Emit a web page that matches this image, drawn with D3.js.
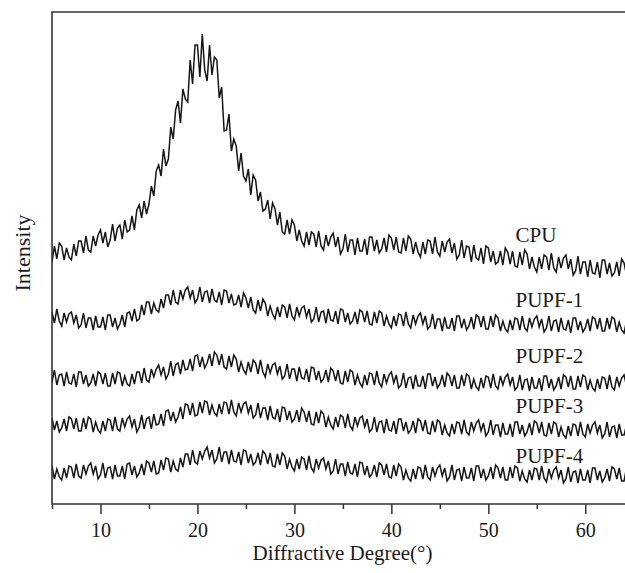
<!DOCTYPE html>
<html>
<head>
<meta charset="utf-8">
<script src="https://cdn.jsdelivr.net/npm/d3@7/dist/d3.min.js"></script>
<style>
html,body{margin:0;padding:0;background:#fff;}
svg{display:block;}
text{font-family:"Liberation Serif","Times New Roman",serif;fill:#1a1a1a;}
</style>
</head>
<body>
<svg id="chart" width="625" height="573"></svg>
<script>
// ---- data (intensity in arbitrary units, curves stacked) ----
const angleStart = 5;      // first sampled 2θ (deg)
const angleStep = 0.25;    // sampling step (deg)
const seriesNames = ["CPU", "PUPF-1", "PUPF-2", "PUPF-3", "PUPF-4"];
const xTickValues = [10, 20, 30, 40, 50, 60];
const xMinorTickValues = [5, 15, 25, 35, 45, 55];
const xTitle = "Diffractive Degree(\u00B0)";
const yTitle = "Intensity";

const cpu = [
242,258,245,261, 258,244,256,247, 244,260,248,263, 263,251,268,254, 252,268,258,269,
274,261,272,257, 264,280,263,276, 279,265,284,272, 274,288,274,294, 299,286,303,290,
300,318,308,333, 339,328,355,338, 345,377,365,394, 403,381,415,405, 402,444,420,459,
459,427,470,434, 423,459,429,447, 444,406,417,373, 374,390,353,365, 358,333,351,328,
323,335,309,329, 324,303,312,293, 295,304,285,301, 295,279,292,272, 270,284,270,284,
279,263,274,263, 258,272,259,272, 270,257,273,258, 254,269,258,267, 271,257,267,250,
255,270,252,264, 264,249,266,253, 253,265,249,267, 267,253,264,251, 255,266,252,269,
266,254,267,252, 251,266,253,268, 265,250,262,252, 247,262,250,264, 263,250,267,252,
248,263,252,262, 265,251,261,245, 249,264,246,258, 257,242,259,246, 244,256,240,258,
256,242,253,240, 242,253,239,256, 252,240,253,238, 237,252,239,254, 250,235,247,237,
232,247,235,249, 247,234,251,236, 232,247,236,246, 249,235,245,229, 233,248,230,242,
242,227,244,231, 230,242,226,244, 244,230,241,228, 231,242,228,245, 241,229
];
const pupf1 = [
192,181,195,183, 178,191,182,190, 192,181,189,176, 179,191,176,186, 186,174,188,177,
177,187,174,189, 189,177,186,175, 180,189,177,191, 192,183,195,183, 185,199,189,202,
202,190,201,194, 192,205,196,209, 209,199,214,202, 200,214,205,214, 217,206,214,201,
205,217,202,212, 213,201,215,204, 202,212,199,214, 213,201,210,199, 200,209,197,211,
206,196,207,194, 191,204,193,205, 201,188,198,190, 185,197,187,199, 197,186,200,188,
184,197,188,196, 198,187,195,182, 185,197,182,192, 193,181,195,184, 183,193,180,195,
194,182,191,180, 183,192,180,194, 192,182,193,180, 179,192,181,193, 191,178,188,180,
176,188,178,190, 189,178,192,180, 176,189,180,188, 191,180,188,175, 178,190,175,185,
185,173,187,176, 176,186,173,188, 188,176,185,174, 178,187,175,189, 187,177,188,175,
175,188,177,189, 186,173,183,175, 172,184,174,186, 185,174,188,176, 173,186,177,185,
188,177,185,172, 176,188,173,183, 184,172,186,175, 174,184,171,186, 186,174,183,172,
176,185,173,187, 185,175,186,173, 173,186,175,187, 185,172,182,174, 171,183
];
const pupf2 = [
122,134,119,129, 130,118,132,121, 120,130,117,132, 132,120,129,118, 121,130,118,132,
130,120,131,118, 118,131,120,132, 131,118,128,120, 118,130,120,132, 132,121,136,124,
122,135,127,135, 139,129,137,125, 130,143,128,139, 141,130,144,134, 135,145,133,148,
149,137,147,136, 141,150,138,152, 149,139,150,137, 135,148,137,149, 145,132,142,134,
130,142,132,144, 141,130,144,132, 127,140,131,139, 141,130,138,125, 128,140,125,135,
135,123,137,126, 125,135,122,137, 136,124,133,122, 125,134,122,136, 133,123,134,121,
120,133,122,134, 132,119,129,121, 117,129,119,131, 130,119,133,121, 117,130,121,129,
132,121,129,116, 119,131,116,126, 127,115,129,118, 118,128,115,130, 130,118,127,116,
120,129,117,131, 128,118,129,116, 116,129,118,130, 128,115,125,117, 114,126,116,128,
127,116,130,118, 115,128,119,127, 130,119,127,114, 117,129,114,124, 125,113,127,116,
116,126,113,128, 128,116,125,114, 118,127,115,129, 127,117,128,115, 115,128,117,129,
127,114,124,116, 113,125,115,127, 126,115,129,117, 114,127,118,126, 129,118
];
const pupf3 = [
86,74,83,72, 76,85,73,87, 85,75,86,73, 73,86,75,87, 85,72,82,74,
71,83,73,85, 84,73,87,75, 73,86,77,85, 88,77,85,72, 77,89,75,85,
87,75,90,79, 80,90,78,93, 94,83,92,82, 87,97,85,100, 99,89,101,88,
89,102,91,103, 102,89,99,91, 88,100,90,102, 101,90,104,92, 88,101,92,100,
102,91,99,86, 89,101,86,96, 96,84,98,87, 85,95,82,97, 96,84,93,82,
85,94,82,96, 92,82,93,80, 79,92,81,93, 90,77,87,79, 75,87,77,89,
87,76,90,78, 74,87,78,86, 88,77,85,72, 75,87,72,82, 83,71,85,74,
73,83,70,85, 85,73,82,71, 74,83,71,85, 83,73,84,71, 70,83,72,84,
82,69,79,71, 68,80,70,82, 81,70,84,72, 69,82,73,81, 84,73,81,68,
72,84,69,79, 79,67,81,70, 70,80,67,82, 82,70,79,68, 72,81,69,83,
81,71,82,69, 68,81,70,82, 80,67,77,69, 66,78,68,80, 79,68,82,70,
67,80,71,79, 82,71,79,66, 70,82,67,77, 78,66,80,69, 69,79
];
const pupf4 = [
38,25,35,27, 24,36,26,38, 37,26,40,28, 26,39,30,38, 41,30,38,25,
29,41,26,36, 37,25,39,28, 28,38,25,40, 41,29,38,27, 31,40,29,43,
41,32,43,30, 31,44,34,46, 45,32,43,35, 33,46,37,50, 50,39,54,42,
40,53,45,53, 57,46,54,41, 45,57,42,52, 52,40,54,43, 42,52,39,54,
53,41,50,39, 42,51,39,53, 50,40,51,38, 37,50,39,51, 48,35,45,37,
33,45,35,47, 45,34,48,36, 32,45,36,44, 46,35,43,30, 33,45,30,40,
40,28,42,31, 30,40,27,42, 41,29,38,27, 30,39,27,41, 39,29,40,27,
26,39,28,40, 37,24,34,26, 23,35,25,37, 36,25,39,27, 24,37,28,36,
39,28,36,23, 27,39,24,34, 35,23,37,26, 26,36,23,38, 38,26,35,24,
28,37,25,39, 36,26,37,24, 24,37,26,38, 36,23,33,25, 22,34,24,36,
35,24,38,26, 22,35,26,34, 37,26,34,21, 25,37,22,32, 33,21,35,24,
24,34,21,36, 36,24,33,22, 26,35,23,37, 35,25,36,23, 23,36
];
const seriesValues = [cpu, pupf1, pupf2, pupf3, pupf4];
// label anchor heights (same intensity units) for the curve names
const labelLevels = [262, 197, 141, 91, 41];

(function () {
  const svg = d3.select("#chart");
  const mLeft = 52, mRight = 626, mTop = 12, mBottom = 504;

  const x = d3.scaleLinear().domain([5, 64.2]).range([mLeft, mRight]);
  const y = d3.scaleLinear().domain([0, 492]).range([mBottom, mTop]);

  svg.append("defs").append("clipPath").attr("id", "plotClip")
    .append("rect").attr("x", mLeft).attr("y", mTop)
    .attr("width", mRight - mLeft).attr("height", mBottom - mTop);

  const line = d3.line()
    .x((d, i) => x(angleStart + i * angleStep))
    .y(d => y(d));

  const plot = svg.append("g").attr("clip-path", "url(#plotClip)");
  seriesValues.forEach(vals => {
    plot.append("path")
      .datum(vals)
      .attr("d", line)
      .attr("fill", "none")
      .attr("stroke", "#161616")
      .attr("stroke-width", 1.5);
  });

  seriesNames.forEach((name, i) => {
    svg.append("text")
      .attr("x", x(52.8))
      .attr("y", y(labelLevels[i]))
      .attr("font-size", 21)
      .text(name);
  });

  svg.append("path")
    .attr("d", `M${mRight + 10},${mTop}H${mLeft}V${mBottom}H${mRight + 10}`)
    .attr("fill", "none").attr("stroke", "#333").attr("stroke-width", 1.6);

  const xAxis = d3.axisBottom(x).tickValues(xTickValues).tickSize(10).tickPadding(9).tickFormat(d3.format("d"));
  const gx = svg.append("g").attr("transform", `translate(0,${mBottom})`).call(xAxis);
  gx.select(".domain").remove();
  gx.selectAll(".tick line").attr("stroke", "#333").attr("stroke-width", 1.5);
  gx.selectAll(".tick text").attr("font-size", 20)
    .attr("font-family", "Liberation Serif, Times New Roman, serif").attr("fill", "#1a1a1a");

  const xMinor = d3.axisBottom(x).tickValues(xMinorTickValues).tickSize(5).tickFormat("");
  const gm = svg.append("g").attr("transform", `translate(0,${mBottom})`).call(xMinor);
  gm.select(".domain").remove();
  gm.selectAll(".tick line").attr("stroke", "#333").attr("stroke-width", 1.5);

  svg.append("text")
    .attr("x", (mLeft + 625) / 2 + 4)
    .attr("y", 560)
    .attr("text-anchor", "middle")
    .attr("font-size", 21)
    .text(xTitle);

  svg.append("text")
    .attr("transform", "translate(30,253) rotate(-90)")
    .attr("text-anchor", "middle")
    .attr("font-size", 22)
    .text(yTitle);
})();
</script>
</body>
</html>
